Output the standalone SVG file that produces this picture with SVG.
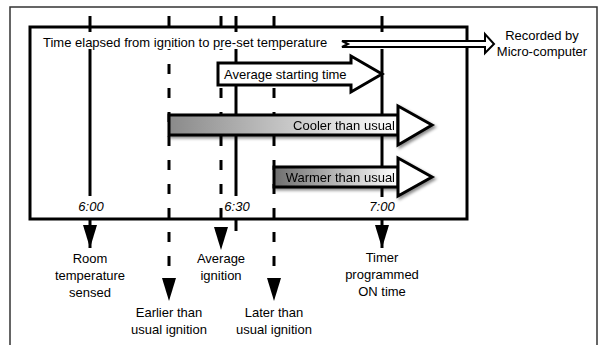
<svg xmlns="http://www.w3.org/2000/svg" width="600" height="345" viewBox="0 0 600 345">
<style>
.t{font-family:"Liberation Sans",Arial,sans-serif;font-size:13px;fill:#000}
.c{text-anchor:middle}
.i{font-style:italic}
.ln{stroke:#000;stroke-width:3;fill:none}
.ds{stroke:#000;stroke-width:3;fill:none;stroke-dasharray:10 14}
.ol{stroke:#000;stroke-width:3;fill:#fff;stroke-linejoin:miter}
</style>
<defs>
<linearGradient id="gCool" gradientUnits="userSpaceOnUse" x1="169" y1="0" x2="398" y2="0"><stop offset="0" stop-color="#8a8a8a"/><stop offset="1" stop-color="#ffffff"/></linearGradient>
<linearGradient id="gWarm" gradientUnits="userSpaceOnUse" x1="274" y1="0" x2="398" y2="0"><stop offset="0" stop-color="#6e6e6e"/><stop offset="1" stop-color="#ffffff"/></linearGradient>
<filter id="sh" x="-10%" y="-30%" width="130%" height="170%"><feDropShadow dx="2" dy="2" stdDeviation="1.5" flood-color="#000" flood-opacity="0.45"/></filter>
<marker id="ah" viewBox="0 0 23 14" refX="23" refY="7" markerWidth="23" markerHeight="14" markerUnits="userSpaceOnUse" orient="auto"><path d="M0,0 L23,7 L0,14 z" fill="#000"/></marker>
</defs>
<rect width="600" height="345" fill="#fff"/>
<g id="frame"><path d="M10,345 V7 H597 V345" fill="none" stroke="#333" stroke-width="1.5"/></g>
<g id="timeline-box"><rect x="30" y="27" width="437" height="192" fill="none" stroke="#000" stroke-width="3"/></g>
<g id="connectors">
<line class="ln" x1="90" y1="16" x2="90" y2="196"/>
<line class="ln" x1="90" y1="218" x2="90" y2="248" marker-end="url(#ah)"/>
<line class="ln" x1="236" y1="16" x2="236" y2="196"/>
<line class="ln" x1="236" y1="218" x2="236" y2="231"/>
<line class="ln" x1="382" y1="16" x2="382" y2="197"/>
<line class="ln" x1="382" y1="218" x2="382" y2="248" marker-end="url(#ah)"/>
<line class="ds" x1="169" y1="16" x2="169" y2="301" marker-end="url(#ah)"/>
<line class="ds" x1="221" y1="16" x2="221" y2="250" marker-end="url(#ah)"/>
<line class="ds" x1="274" y1="16" x2="274" y2="301" marker-end="url(#ah)"/>
</g>
<rect x="38" y="32" width="352" height="17" fill="#fff"/>
<g id="elapsed"><text class="t" x="43" y="47">Time elapsed from ignition to pre-set temperature</text></g>
<g id="recorded">
<polygon points="342,41 485,41 485,34 494,44 485,53 485,47 342,47 348,44" fill="#fff" stroke="#000" stroke-width="2"/>
<text class="t c" x="542" y="40">Recorded by</text>
<text class="t c" x="542" y="56">Micro-computer</text>
</g>
<g id="average-start">
<polygon class="ol" points="218,63 351,63 351,56 382,74 351,92 351,85 218,85"/>
<text class="t" x="224" y="79">Average starting time</text>
</g>
<g id="cooler" filter="url(#sh)">
<rect x="169" y="115" width="229" height="20" fill="url(#gCool)" stroke="#000" stroke-width="3"/>
<polygon class="ol" points="398,106 432,125 398,145"/>
<text class="t" x="395" y="130" text-anchor="end">Cooler than usual</text>
</g>
<g id="warmer" filter="url(#sh)">
<rect x="274" y="167" width="124" height="20" fill="url(#gWarm)" stroke="#000" stroke-width="3"/>
<polygon class="ol" points="398,158 432,177 398,196"/>
<text class="t" x="395" y="182" text-anchor="end">Warmer than usual</text>
</g>
<g id="times">
<text class="t c i" x="91" y="211">6:00</text>
<text class="t c i" x="237" y="211">6:30</text>
<text class="t c i" x="382" y="211">7:00</text>
</g>
<g id="room"><text class="t c" x="90" y="263">Room</text><text class="t c" x="90" y="280">temperature</text><text class="t c" x="90" y="297">sensed</text></g>
<g id="avg-ign"><text class="t c" x="221" y="263">Average</text><text class="t c" x="221" y="280">ignition</text></g>
<g id="timer"><text class="t c" x="382" y="262">Timer</text><text class="t c" x="382" y="279">programmed</text><text class="t c" x="382" y="296">ON time</text></g>
<g id="earlier"><text class="t c" x="169" y="317">Earlier than</text><text class="t c" x="169" y="334">usual ignition</text></g>
<g id="later"><text class="t c" x="274" y="317">Later than</text><text class="t c" x="274" y="334">usual ignition</text></g>
</svg>
